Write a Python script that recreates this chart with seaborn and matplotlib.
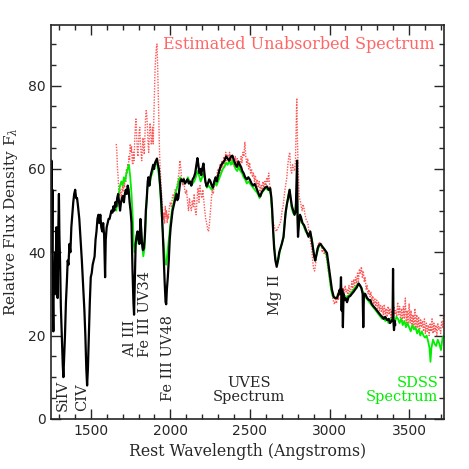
import numpy as np
import pandas as pd
import seaborn as sns
import matplotlib.pyplot as plt
from matplotlib.ticker import MultipleLocator

# UVES spectrum (black)
uves_wave = [1250, 1253, 1256, 1259, 1262, 1265, 1268, 1272, 1276, 1280, 1284, 1288, 1292, 1296, 1300,
             1303, 1307, 1312, 1318, 1324, 1328, 1332, 1338, 1344, 1350, 1355, 1360, 1366, 1372, 1378,
             1384, 1390, 1396, 1402, 1408, 1414, 1420, 1428, 1436, 1444, 1452, 1460, 1466, 1472, 1477,
             1482, 1488, 1494, 1500, 1506, 1512, 1518, 1524, 1530, 1536, 1542, 1548, 1554, 1560, 1566,
             1572, 1578, 1584, 1590, 1594, 1600, 1606, 1612, 1618, 1624, 1630, 1636, 1642, 1648, 1654,
             1660, 1666, 1672, 1678, 1684, 1690, 1696, 1702, 1708, 1714, 1720, 1726, 1732, 1738, 1744,
             1750, 1756, 1762, 1768, 1772, 1776, 1782, 1788, 1794, 1800, 1806, 1812, 1816, 1822, 1828,
             1834, 1840, 1846, 1852, 1858, 1862, 1868, 1874, 1880, 1886, 1892, 1898, 1904, 1910, 1916,
             1922, 1928, 1934, 1940, 1946, 1952, 1958, 1964, 1970, 1974, 1978, 1984, 1990, 1996, 2002,
             2008, 2014, 2020, 2026, 2032, 2038, 2044, 2050, 2056, 2062, 2068, 2076, 2084, 2092, 2100,
             2108, 2116, 2124, 2132, 2140, 2148, 2156, 2164, 2170, 2176, 2182, 2188, 2194, 2200, 2208,
             2214, 2220, 2228, 2236, 2244, 2252, 2260, 2268, 2276, 2284, 2292, 2300, 2310, 2320, 2330,
             2340, 2350, 2360, 2370, 2380, 2390, 2400, 2410, 2418, 2428, 2436, 2444, 2452, 2460, 2470,
             2480, 2490, 2500, 2510, 2520, 2530, 2540, 2550, 2560, 2565, 2575, 2585, 2595, 2607, 2617,
             2627, 2635, 2640, 2646, 2652, 2660, 2668, 2676, 2684, 2692, 2700, 2711, 2718, 2724, 2732,
             2740, 2749, 2756, 2764, 2772, 2780, 2788, 2793, 2796, 2799, 2802, 2808, 2814, 2820, 2830,
             2840, 2850, 2860, 2868, 2879, 2888, 2896, 2904, 2910, 2918, 2926, 2934, 2944, 2952, 2962,
             2972, 2984, 2994, 3005, 3015, 3026, 3036, 3047, 3056, 3064, 3068, 3072, 3076, 3080, 3084,
             3088, 3094, 3100, 3110, 3120, 3130, 3140, 3151, 3160, 3170, 3183, 3192, 3200, 3208, 3212,
             3216, 3224, 3236, 3248, 3256, 3266, 3276, 3288, 3298, 3308, 3318, 3330, 3340, 3350, 3361,
             3372, 3380, 3390, 3396, 3399, 3402, 3405, 3410, 3413]
uves_flux = [45, 62, 40, 55, 28, 21, 36, 30, 40, 37, 46, 32, 29, 45, 54,
             44, 38, 27, 20, 13, 10, 14, 20, 28, 33, 38, 37, 42, 40, 46,
             49, 52, 54, 55, 53, 53, 51, 48, 43, 38, 32, 26, 20, 12, 8,
             12, 20, 28, 34, 35, 37, 38, 39, 43, 45, 48, 49, 47, 49, 46,
             45, 47, 44, 34, 43, 46, 47, 48, 48, 49, 50, 49.5, 51, 50, 52,
             51, 53, 54, 52, 50, 52, 53, 53.5, 52, 54, 55, 54, 56, 55, 52,
             50, 47, 36, 28, 25, 32, 42, 44, 45, 43, 42, 48, 46, 42, 40.5,
             41, 44, 50, 53, 57, 58, 56, 58, 59, 60, 61, 60, 61.5, 62, 62.5,
             61, 60, 57, 54, 50, 45, 39, 33, 28, 27.5, 31, 34, 38, 43, 46,
             48, 50, 51, 52, 53, 54, 52.5, 53, 55, 57, 57.5, 57, 57.5, 56.5, 57,
             57.5, 56.5, 57, 56, 57.5, 58, 59, 61, 62.6, 61, 59, 60, 58.5, 60, 61.3,
             59, 57, 55.8, 56.5, 57.5, 57, 56, 55.5, 57, 58, 57, 58.5, 60, 61, 61.5,
             62, 63, 62.5, 62, 63, 63.2, 62, 61, 60.5, 61.8, 61, 60.5, 59.5, 59, 58,
             57.5, 58, 57.4, 56.5, 56, 56.4, 55.5, 54.5, 53.5, 53.4, 54.5, 55, 55.5, 55.8, 55,
             55.4, 53, 50, 45, 41, 38, 36.5, 38, 40, 41, 42, 43.7, 47, 49.5, 51.5,
             53, 55, 53, 51, 50, 49, 50, 57, 62, 48, 43.7, 47, 49, 48.5, 47,
             46.5, 45.5, 44.5, 43.7, 45, 43, 41, 39, 38, 39.5, 41, 41.7, 42, 41.5, 41,
             40.5, 39.8, 37, 34, 31, 29.3, 29, 29, 30, 31, 30, 34, 26, 31, 22,
             30, 28.5, 29, 28, 29.3, 29.5, 30, 30.5, 31, 31.5, 32.5, 32, 31.4, 30, 22,
             30, 30, 29, 28.5, 28.5, 27.5, 27, 26.5, 26, 25.5, 25, 24.5, 24, 24.5, 23.7,
             24, 23, 23.5, 24, 36, 23, 21.3, 23.5, 22.5]

# SDSS spectrum (green)
sdss_wave = [1660, 1668, 1676, 1684, 1692, 1700, 1708, 1716, 1724, 1732, 1740, 1748, 1756, 1764, 1770,
             1776, 1784, 1792, 1800, 1808, 1816, 1822, 1830, 1838, 1846, 1854, 1862, 1870, 1878, 1886,
             1894, 1902, 1910, 1918, 1926, 1934, 1942, 1950, 1958, 1966, 1974, 1982, 1990, 1998, 2006,
             2014, 2022, 2030, 2038, 2046, 2054, 2062, 2070, 2080, 2090, 2100, 2110, 2120, 2130, 2140,
             2150, 2160, 2170, 2180, 2190, 2200, 2210, 2220, 2230, 2240, 2250, 2260, 2270, 2280, 2290,
             2300, 2310, 2320, 2330, 2340, 2350, 2360, 2370, 2380, 2390, 2400, 2410, 2420, 2430, 2440,
             2450, 2460, 2470, 2480, 2490, 2500, 2510, 2520, 2530, 2540, 2550, 2560, 2570, 2580, 2590,
             2600, 2610, 2620, 2630, 2638, 2646, 2654, 2662, 2670, 2680, 2690, 2700, 2710, 2720, 2730,
             2740, 2750, 2760, 2770, 2780, 2790, 2796, 2802, 2810, 2820, 2830, 2840, 2850, 2860, 2870,
             2880, 2890, 2900, 2910, 2920, 2930, 2940, 2950, 2960, 2970, 2980, 2990, 3000, 3010, 3020,
             3030, 3040, 3050, 3060, 3070, 3080, 3090, 3100, 3110, 3120, 3130, 3140, 3150, 3160, 3170,
             3180, 3190, 3200, 3210, 3220, 3230, 3240, 3250, 3260, 3270, 3280, 3290, 3300, 3310, 3320,
             3330, 3340, 3350, 3360, 3370, 3380, 3390, 3400, 3410, 3420, 3430, 3440, 3450, 3460, 3470,
             3480, 3490, 3500, 3510, 3520, 3530, 3540, 3550, 3560, 3570, 3580, 3590, 3600, 3610, 3620,
             3628, 3634, 3640, 3650, 3660, 3670, 3680, 3690, 3700, 3710, 3720]
sdss_flux = [50, 52, 54, 56, 57, 56, 58, 57, 59, 60, 61, 58, 54, 48, 42,
             40, 43, 44, 42, 45, 46, 42, 39, 41, 48, 55, 57, 56, 58, 59,
             60, 61, 61.5, 61, 59, 56, 51, 46, 42, 38, 37, 40, 43, 46, 49,
             51, 52, 54, 55, 56, 57.5, 58, 57, 57.5, 56.5, 57, 58, 57, 56, 56.5,
             57, 58, 59.5, 58.5, 57, 58, 59, 57, 55.5, 56, 55.5, 55, 56, 57, 56,
             57, 58, 59, 60, 60.5, 61.5, 61, 62, 61, 62, 61, 60, 59.5, 60.5, 59.5,
             59, 58, 57.5, 56.5, 57, 56.5, 56, 55.5, 55, 54.5, 54, 53, 54, 54.5, 55,
             55.5, 55, 55, 54, 50, 45, 41, 38, 37, 38.5, 40.5, 42, 43.5, 48, 51,
             53.5, 55, 51, 49.5, 49, 52, 55, 45, 47, 48, 47, 46, 45, 44.5, 44,
             44.5, 43, 40, 38, 39.5, 41, 42, 41.5, 41, 40.5, 39.5, 37, 34, 31, 29.5,
             29, 29, 29.5, 30, 30.5, 30, 29.5, 29.5, 29, 29.5, 30, 30.5, 31, 31.5, 32,
             32.5, 32, 31.5, 30.5, 30, 29, 28.5, 28, 27.5, 27, 26.5, 26, 25.5, 25, 24.5,
             24, 24.5, 23.5, 24, 23, 24, 23.5, 24, 23, 24.5, 24, 23, 24, 22.5, 23.5,
             22, 23, 22, 21, 22.5, 21.5, 22, 20.5, 21.5, 20, 21, 20, 19.5, 20, 18.5,
             17, 13.7, 17, 19, 18, 17.5, 19, 18, 16.5, 19.5, 20]

# Estimated unabsorbed spectrum (red dotted)
est_wave = [1660, 1664, 1668, 1672, 1676, 1680, 1684, 1688, 1692, 1696, 1700, 1704, 1708, 1712, 1716,
            1720, 1724, 1728, 1732, 1736, 1740, 1744, 1748, 1752, 1756, 1760, 1764, 1768, 1772, 1776,
            1780, 1784, 1788, 1792, 1796, 1800, 1804, 1808, 1812, 1816, 1820, 1824, 1828, 1832, 1836,
            1840, 1844, 1848, 1852, 1856, 1860, 1864, 1868, 1872, 1876, 1880, 1884, 1888, 1892, 1896,
            1900, 1904, 1908, 1912, 1916, 1920, 1924, 1928, 1932, 1936, 1940, 1944, 1948, 1952, 1956,
            1960, 1964, 1968, 1972, 1976, 1980, 1984, 1988, 1992, 1996, 2000, 2006, 2012, 2018, 2024,
            2030, 2036, 2042, 2048, 2054, 2060, 2066, 2072, 2078, 2084, 2090, 2096, 2102, 2108, 2114,
            2120, 2126, 2132, 2138, 2144, 2150, 2156, 2162, 2168, 2174, 2180, 2186, 2192, 2198, 2204,
            2210, 2216, 2222, 2228, 2234, 2240, 2246, 2252, 2258, 2264, 2270, 2276, 2282, 2288, 2294,
            2300, 2306, 2312, 2318, 2324, 2330, 2336, 2342, 2348, 2354, 2360, 2366, 2372, 2378, 2384,
            2390, 2396, 2402, 2408, 2414, 2420, 2426, 2432, 2438, 2444, 2450, 2456, 2462, 2468, 2474,
            2480, 2486, 2492, 2498, 2504, 2510, 2516, 2522, 2528, 2534, 2540, 2546, 2552, 2558, 2564,
            2570, 2576, 2582, 2588, 2594, 2600, 2606, 2612, 2618, 2624, 2630, 2636, 2642, 2648, 2654,
            2660, 2666, 2672, 2678, 2684, 2690, 2696, 2702, 2708, 2714, 2720, 2726, 2732, 2738, 2744,
            2750, 2756, 2762, 2768, 2774, 2780, 2786, 2790, 2794, 2798, 2802, 2806, 2810, 2816, 2822,
            2828, 2834, 2840, 2846, 2852, 2858, 2864, 2870, 2876, 2882, 2888, 2894, 2900, 2906, 2912,
            2918, 2924, 2930, 2936, 2942, 2948, 2954, 2960, 2966, 2972, 2978, 2984, 2990, 2996, 3002,
            3008, 3014, 3020, 3026, 3032, 3038, 3044, 3050, 3056, 3062, 3068, 3074, 3080, 3086, 3092,
            3098, 3104, 3110, 3116, 3122, 3128, 3134, 3140, 3146, 3152, 3158, 3164, 3170, 3176, 3182,
            3188, 3194, 3200, 3206, 3212, 3218, 3224, 3230, 3236, 3242, 3248, 3254, 3260, 3266, 3272,
            3278, 3284, 3290, 3296, 3302, 3308, 3314, 3320, 3326, 3332, 3338, 3344, 3350, 3356, 3362,
            3368, 3374, 3380, 3386, 3392, 3398, 3404, 3410, 3416, 3422, 3428, 3434, 3440, 3446, 3452,
            3458, 3464, 3470, 3476, 3482, 3488, 3494, 3500, 3506, 3512, 3518, 3524, 3530, 3536, 3542,
            3548, 3554, 3560, 3566, 3572, 3578, 3584, 3590, 3596, 3602, 3608, 3614, 3620, 3626, 3632,
            3638, 3644, 3650, 3656, 3662, 3668, 3674, 3680, 3686, 3692, 3698, 3704, 3710, 3716, 3720]
est_flux = [66, 64, 60, 58, 55, 53.5, 55, 54, 53, 55, 56, 54.5, 57, 55.5, 58,
            57, 60, 59, 61, 60, 63, 62, 66, 64, 65.5, 62, 61, 64, 62, 67,
            70, 72, 68, 65, 63, 66, 69, 70, 66, 64, 62, 65, 67.5, 65, 63.5,
            68, 72, 74, 73, 70, 66, 64, 68, 71, 69, 66, 67, 70, 66, 72,
            79, 84, 87, 89, 90, 85, 78, 70, 64, 60, 57, 54.5, 52, 50, 48,
            49.5, 47, 51, 48.5, 50, 47, 49, 48, 50, 51.5, 52, 51, 53, 54, 53,
            55, 54, 56, 57.5, 59, 62, 60, 57, 56, 58, 55, 54, 55, 52, 50,
            53, 51, 50, 52.5, 51, 54, 50, 49, 53, 55.5, 52, 56, 54, 53, 55,
            52.5, 50, 48, 47, 45.5, 45, 47, 50, 53, 55, 54, 57, 58, 56, 59,
            60, 58, 61, 59, 62, 60.5, 63, 61, 64, 62, 63.5, 61.5, 64, 62, 63,
            61, 62.5, 60.5, 63, 61, 62.5, 60, 61, 59.5, 63, 61.5, 64, 63, 66.5, 63,
            61, 62.5, 60, 61.5, 59, 60, 58, 59, 57, 58.5, 56, 57.5, 55.5, 57, 54.5,
            56, 55, 57, 55.5, 57, 56, 58, 57, 59, 56, 55, 51, 48, 47, 46,
            45.5, 45, 45.5, 46, 46.5, 47, 48, 50, 51, 53, 55, 56.5, 58, 61, 63,
            64, 60, 59, 61, 60, 59.5, 62, 70, 77, 68, 61, 57, 53, 52.5, 51,
            50, 51.5, 50.5, 49, 48, 47.5, 47, 45, 44, 42, 41, 38, 36, 35.5, 37,
            39, 41, 42, 42.5, 42, 41.5, 40, 41, 39.5, 40, 39, 38, 36, 34.5, 33,
            31.5, 30.5, 29, 28, 27.5, 29, 27.7, 30, 28.5, 31, 29.5, 32, 30, 31.5, 30,
            32, 30.5, 31, 29.5, 32, 30.5, 31, 33, 31, 33.5, 32, 34, 32.5, 35, 33,
            36, 35, 36.5, 34, 35.5, 33, 34, 31, 32, 30, 31, 29.3, 30.5, 28.5, 29.5,
            27.5, 29, 27, 28.5, 26.5, 28, 26, 27.5, 25.5, 27, 25, 27.5, 25, 26.5, 24.5,
            27, 25, 26.5, 24, 26, 24.5, 27, 25, 26, 24.5, 28, 25, 27, 24, 26.5,
            23.5, 27, 24, 29, 23, 26, 22.5, 27.7, 23, 26, 22.5, 25, 22, 26.5, 21.5,
            25, 22, 24.5, 21, 24, 22, 23.5, 21, 24, 20.5, 23, 21, 22.5, 20, 23,
            21, 24, 20.5, 23, 21, 22.5, 20, 23, 21.5, 22, 20.5, 23.5, 22, 25, 24.5]

uves = pd.DataFrame({"wave": uves_wave, "flux": uves_flux})
sdss = pd.DataFrame({"wave": sdss_wave, "flux": sdss_flux})
est = pd.DataFrame({"wave": est_wave, "flux": est_flux})

sns.set_style("ticks")
plt.rcParams["font.family"] = ["DejaVu Serif"]
plt.rcParams["mathtext.fontset"] = "dejavuserif"

fig = plt.figure(figsize=(4.69, 4.69), dpi=100)
ax = fig.add_axes([0.108, 0.107, 0.839, 0.840])

sns.lineplot(data=est, x="wave", y="flux", ax=ax, sort=False, estimator=None,
             color="#ff3b3b", lw=1.0, linestyle=(0, (1, 1)), alpha=0.85)
sns.lineplot(data=sdss, x="wave", y="flux", ax=ax, sort=False, estimator=None,
             color="#00ee00", lw=1.3)
sns.lineplot(data=uves, x="wave", y="flux", ax=ax, sort=False, estimator=None,
             color="black", lw=1.6)

ax.set_xlim(1248, 3720)
ax.set_ylim(0, 94.6)
ax.xaxis.set_major_locator(MultipleLocator(500))
ax.xaxis.set_minor_locator(MultipleLocator(100))
ax.yaxis.set_major_locator(MultipleLocator(20))
ax.yaxis.set_minor_locator(MultipleLocator(5))
ax.tick_params(which="both", direction="in", top=True, right=True, width=1)
ax.tick_params(which="major", length=7)
ax.tick_params(which="minor", length=3.6)
for lab in ax.get_xticklabels() + ax.get_yticklabels():
    lab.set_fontfamily("DejaVu Sans")
    lab.set_fontsize(10)
for s in ax.spines.values():
    s.set_linewidth(1.2)

ax.set_xlabel("Rest Wavelength (Angstroms)", fontsize=11.3, labelpad=4)
ax.set_ylabel(r"Relative Flux Density F$_\lambda$", fontsize=11, labelpad=6)

# line identifications
lab_kw = dict(rotation=90, fontsize=10.5, ha="center", va="bottom")
ax.text(1326, 1.8, "SiIV", **lab_kw)
ax.text(1443, 1.8, "CIV", **lab_kw)
ax.text(1747, 14.8, "Al III", **lab_kw)
ax.text(1841, 14.8, "Fe III UV34", **lab_kw)
ax.text(1988, 4.3, "Fe III UV48", **lab_kw)
ax.text(2659, 25, "Mg II", **lab_kw)

ax.text(2495, 3.5, "UVES\nSpectrum", fontsize=10.5, ha="center", va="bottom",
        linespacing=1.0)
ax.text(3684, 3.5, "SDSS\nSpectrum", fontsize=10.5, ha="right", va="bottom",
        color="#00ee00", linespacing=1.0, multialignment="right")
ax.text(1952, 89.8, "Estimated Unabsorbed Spectrum", fontsize=11.5,
        ha="left", va="center", color="#ff6666")

fig.savefig("out.png", dpi=100)
